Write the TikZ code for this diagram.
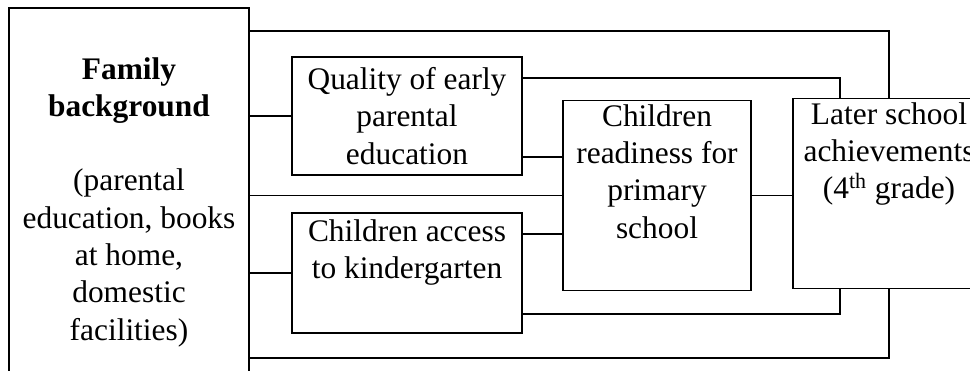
\documentclass[tikz,border=0pt]{standalone}
\usepackage{fontspec}
\setmainfont{Liberation Serif}
\usepackage{tikz}
\usetikzlibrary{positioning}

\begin{document}
\begin{tikzpicture}[
x=0.5pt, y=-0.5pt,
font=\fontsize{15.7}{18.65}\selectfont,
line width=0.8pt,
plain_box/.style={draw, rectangle, align=center, inner sep=2pt},
link/.style={draw, line width=0.8pt}
]
% Fix the frame of the picture
    \clip (0,0) rectangle (970,370);

% Draw boxes
    \node[plain_box, minimum width=120pt, minimum height=194pt] (family) at (129,202)
        {\textbf{Family}\\\textbf{background}\\[18.65pt](parental\\education, books\\at home,\\domestic\\facilities)};
    \node[plain_box, minimum width=115pt, minimum height=59pt] (quality) at (407,116)
        {Quality of early\\parental\\education};
    \node[plain_box, minimum width=115pt, minimum height=60pt] (access) at (407,273)
        {Children access\\to kindergarten\\\strut};
    \node[plain_box, minimum width=94pt, minimum height=93.5pt] (ready) at (657,195.5)
        {Children\\readiness for\\primary\\school\\\strut};
    \node[plain_box, minimum width=96pt, minimum height=93.5pt] (later) at (889,193.5)
        {Later school\\achievements\\(4\textsuperscript{th} grade)\\\strut\\\strut};

% Turning points of the long lines
    \coordinate (top_rail) at (0,31);
    \coordinate (bottom_rail) at (0,358);
    \coordinate (q_turn) at (840,78);
    \coordinate (a_turn) at (840,314);

% Draw lines from family background
    \draw[link] (family.east |- top_rail) -- (later.north |- top_rail) -- (later.north);
    \draw[link] (family.east |- quality.west) -- (quality.west);
    \draw[link] (family.east |- ready.west) -- (ready.west);
    \draw[link] (family.east |- access.west) -- (access.west);
    \draw[link] (family.east |- bottom_rail) -- (later.south |- bottom_rail) -- (later.south);
% Draw lines from quality and access
    \draw[link] (quality.east |- q_turn) -- (q_turn) -- (later.north -| q_turn);
    \draw[link] (quality.east |- 0,157) -- (ready.west |- 0,157);
    \draw[link] (access.east |- 0,234) -- (ready.west |- 0,234);
    \draw[link] (access.east |- a_turn) -- (a_turn) -- (later.south -| a_turn);
% Draw line from readiness
    \draw[link] (ready.east) -- (later.west |- ready.east);
\end{tikzpicture}
\end{document}
